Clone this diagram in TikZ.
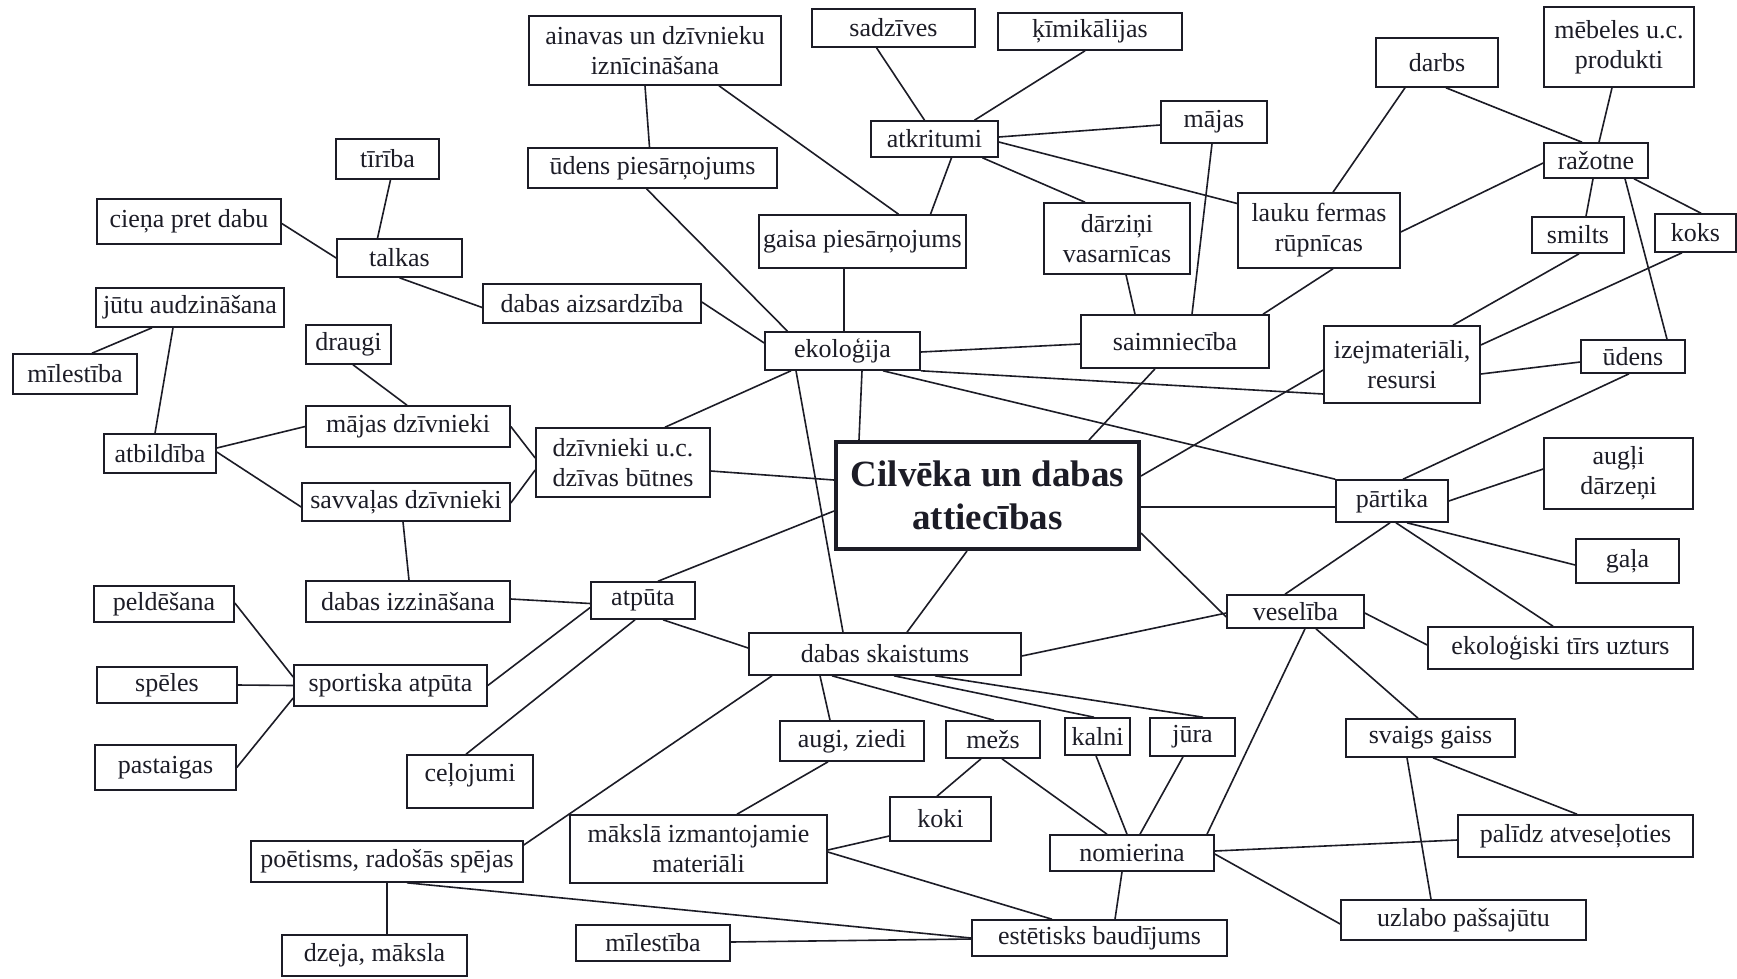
\documentclass[tikz,border=0pt]{standalone}
\usepackage{fontspec}
\setmainfont{Liberation Serif}
\definecolor{ink}{RGB}{28,28,38}
\newcommand\bx[5]{\node[box, minimum width=#4pt, minimum height=#5pt] (#1) at (#2,#3)}
\begin{document}
\begin{tikzpicture}[x=1pt,y=-1pt,
  box/.style={draw=ink, text=ink, line width=1.6pt, inner sep=0pt, align=center,
    font=\fontsize{26}{30}\selectfont},
  hub/.style={box, line width=4pt, font=\bfseries\fontsize{37}{43}\selectfont},
  ln/.style={draw=ink, line width=1.6pt}]
\useasboundingbox[fill=white] (0,0) rectangle (1737,978);

% boxes
\bx{ain}{655}{50.5}{252}{69} {ainavas un dzīvnieku\\iznīcināšana};
\bx{sad}{893.5}{28}{163}{38} {sadzīves};
\bx{kim}{1090}{31.5}{184}{37} {ķīmikālijas};
\bx{darbs}{1437}{62.5}{122}{49} {darbs};
\bx{meb}{1619}{47}{150}{80} {mēbeles u.c.\\produkti};
\bx{tir}{387.5}{159}{103}{40} {tīrība};
\bx{udp}{652.5}{168}{249}{40} {ūdens piesārņojums};
\bx{atk}{934.5}{139}{127}{36} {atkritumi};
\bx{maj}{1214}{122}{106}{42} {mājas};
\bx{raz}{1596}{160.5}{104}{35} {ražotne};
\bx{cien}{189}{221.5}{184}{45} {cieņa pret dabu};
\bx{talk}{399.5}{258}{125}{38} {talkas};
\bx{gaisa}{862.5}{241.5}{207}{53} {gaisa piesārņojums};
\bx{darz}{1117}{238.5}{146}{71} {dārziņi\\vasarnīcas};
\bx{lauk}{1319}{230.5}{162}{75} {lauku fermas\\rūpnīcas};
\bx{smil}{1578}{235}{92}{36} {smilts};
\bx{koks}{1695.5}{233}{81}{38} {koks};
\bx{jutu}{190}{307.5}{188}{39} {jūtu audzināšana};
\bx{daizs}{592}{303.5}{218}{39} {dabas aizsardzība};
\bx{draugi}{348.5}{344.5}{85}{39} {draugi};
\bx{ekol}{842.5}{351}{155}{38} {ekoloģija};
\bx{saim}{1175}{341.5}{188}{53} {saimniecība};
\bx{izej}{1402}{364.5}{156}{77} {izejmateriāli,\\resursi};
\bx{uden}{1633}{356.5}{104}{33} {ūdens};
\bx{mil1}{75}{374}{124}{40} {mīlestība};
\bx{mdz}{408}{426.5}{204}{41} {mājas dzīvnieki};
\bx{atb}{160}{453.5}{112}{39} {atbildība};
\bx{dzuc}{623}{462.5}{174}{69} {dzīvnieki u.c.\\dzīvas būtnes};
\node[hub, minimum width=303pt, minimum height=107pt] (cen) at (987.5,495.5) {Cilvēka un dabas\\attiecības};
\bx{augli}{1618.5}{473.5}{149}{71} {augļi\\dārzeņi};
\bx{part}{1392}{501}{112}{42} {pārtika};
\bx{sdz}{406}{502}{208}{38} {savvaļas dzīvnieki};
\bx{gala}{1627.5}{561}{103}{44} {gaļa};
\bx{peld}{164}{604}{140}{36} {peldēšana};
\bx{diz}{408}{601.5}{204}{41} {dabas izzināšana};
\bx{atp}{643}{600.5}{104}{37} {atpūta};
\bx{ves}{1295.5}{611.5}{137}{33} {veselība};
\bx{dsk}{885}{654}{272}{42} {dabas skaistums};
\bx{ekt}{1560.5}{648}{265}{42} {ekoloģiski tīrs uzturs};
\bx{spel}{167}{685}{140}{36} {spēles};
\bx{spa}{390.5}{685.5}{193}{41} {sportiska atpūta};
\bx{augi}{852}{741}{144}{40} {augi, ziedi};
\bx{mezs}{993}{739.5}{94}{37} {mežs};
\bx{kalni}{1097.5}{736.5}{65}{37} {kalni};
\bx{jura}{1192.5}{737}{85}{38} {jūra};
\bx{svg}{1430.5}{738}{169}{38} {svaigs gaiss};
\bx{past}{165.5}{767.5}{141}{45} {pastaigas};
\node[box, minimum width=126pt, minimum height=53pt, text depth=19pt] (celo) at (470,781.5) {ceļojumi};
\bx{koki}{940.5}{819}{101}{44} {koki};
\bx{maksla}{698.5}{849}{257}{68} {mākslā izmantojamie\\materiāli};
\bx{pal}{1575.5}{836}{235}{42} {palīdz atveseļoties};
\bx{nom}{1132}{853}{164}{36} {nomierina};
\bx{poet}{387}{861.5}{272}{41} {poētisms, radošās spējas};
\bx{uzl}{1463.5}{920}{245}{40} {uzlabo pašsajūtu};
\bx{est}{1099.5}{938}{255}{36} {estētisks baudījums};
\bx{mil2}{653}{943}{154}{36} {mīlestība};
\bx{dzeja}{374.5}{955.5}{185}{41} {dzeja, māksla};

% connectors
\draw[ln] ([shift={(3,0)}]tir.south) -- ([shift={(-22,0)}]talk.north);
\draw[ln] ([shift={(0,2)}]cien.east) -- (talk.west);
\draw[ln] (talk.south) -- ([shift={(0,4)}]daizs.west);
\draw[ln] ([shift={(-10,0)}]ain.south) -- ([shift={(-3,0)}]udp.north);
\draw[ln] ([shift={(64,0)}]ain.south) -- ([shift={(36,0)}]gaisa.north);
\draw[ln] ([shift={(-17,0)}]sad.south) -- ([shift={(-10,0)}]atk.north);
\draw[ln] ([shift={(-5,0)}]kim.south) -- ([shift={(40,0)}]atk.north);
\draw[ln] ([shift={(0,-2)}]atk.east) -- ([shift={(0,3)}]maj.west);
\draw[ln] ([shift={(0,3)}]atk.east) -- ([shift={(0,-27)}]lauk.west);
\draw[ln] ([shift={(48,0)}]atk.south) -- ([shift={(-32,0)}]darz.north);
\draw[ln] ([shift={(17,0)}]atk.south) -- ([shift={(68,0)}]gaisa.north);
\draw[ln] ([shift={(-6,0)}]udp.south) -- ([shift={(-55,0)}]ekol.north);
\draw[ln] ([shift={(-18.5,0)}]gaisa.south) -- ([shift={(1.5,0)}]ekol.north);
\draw[ln] ([shift={(0,-1.5)}]daizs.east) -- ([shift={(0,-8)}]ekol.west);
\draw[ln] ([shift={(9,0)}]darz.south) -- ([shift={(-40,0)}]saim.north);
\draw[ln] ([shift={(-2,0)}]maj.south) -- ([shift={(17,0)}]saim.north);
\draw[ln] ([shift={(14,0)}]lauk.south) -- ([shift={(88,0)}]saim.north);
\draw[ln] ([shift={(-32,0)}]darbs.south) -- ([shift={(14,0)}]lauk.north);
\draw[ln] ([shift={(9,0)}]darbs.south) -- ([shift={(-14,0)}]raz.north);
\draw[ln] ([shift={(-7,0)}]meb.south) -- ([shift={(3,0)}]raz.north);
\draw[ln] ([shift={(0,2.5)}]raz.west) -- ([shift={(0,1.5)}]lauk.east);
\draw[ln] ([shift={(-3,0)}]raz.south) -- ([shift={(8,0)}]smil.north);
\draw[ln] ([shift={(38,0)}]raz.south) -- ([shift={(5.5,0)}]koks.north);
\draw[ln] ([shift={(29,0)}]raz.south) -- ([shift={(34,0)}]uden.north);
\draw[ln] ([shift={(1,0)}]smil.south) -- ([shift={(51,0)}]izej.north);
\draw[ln] ([shift={(-13.5,0)}]koks.south) -- ([shift={(0,-19.5)}]izej.east);
\draw[ln] ([shift={(0,9.5)}]izej.east) -- ([shift={(0,5.5)}]uden.west);
\draw[ln] ([shift={(-38,0)}]jutu.south) -- ([shift={(17,0)}]mil1.north);
\draw[ln] ([shift={(-17,0)}]jutu.south) -- ([shift={(-5,0)}]atb.north);
\draw[ln] ([shift={(0,-5.5)}]atb.east) -- (mdz.west);
\draw[ln] ([shift={(0,-1.5)}]atb.east) -- ([shift={(0,5)}]sdz.west);
\draw[ln] ([shift={(4.5,0)}]draugi.south) -- ([shift={(-1,0)}]mdz.north);
\draw[ln] (mdz.east) -- ([shift={(0,-4.5)}]dzuc.west);
\draw[ln] ([shift={(0,1)}]sdz.east) -- ([shift={(0,7.5)}]dzuc.west);
\draw[ln] ([shift={(-3,0)}]sdz.south) -- ([shift={(1,0)}]diz.north);
\draw[ln] ([shift={(0,-2.5)}]diz.east) -- ([shift={(0,3)}]atp.west);
\draw[ln] ([shift={(0,-1)}]peld.east) -- ([shift={(0,-8.5)}]spa.west);
\draw[ln] (spel.east) -- (spa.west);
\draw[ln] (past.east) -- ([shift={(0,12.5)}]spa.west);
\draw[ln] (spa.east) -- ([shift={(0,7)}]atp.west);
\draw[ln] ([shift={(-4,0)}]celo.north) -- ([shift={(-8,0)}]atp.south);
\draw[ln] ([shift={(15,0)}]atp.north) -- ([shift={(0,15.5)}]cen.west);
\draw[ln] ([shift={(20,0)}]atp.south) -- ([shift={(0,-6)}]dsk.west);
\draw[ln] ([shift={(42,0)}]dzuc.north) -- ([shift={(-51.5,0)}]ekol.south);
\draw[ln] ([shift={(0,8.5)}]dzuc.east) -- ([shift={(0,-15.5)}]cen.west);
\draw[ln] ([shift={(-46.5,0)}]ekol.south) -- ([shift={(-42,0)}]dsk.north);
\draw[ln] ([shift={(19.5,0)}]ekol.south) -- ([shift={(-128.5,0)}]cen.north);
\draw[ln] ([shift={(0,1)}]ekol.east) -- ([shift={(0,2.5)}]saim.west);
\draw[ln] (ekol.south east) -- ([shift={(0,29.5)}]izej.west);
\draw[ln] ([shift={(40.5,0)}]ekol.south) -- (part.north west);
\draw[ln] ([shift={(-20,0)}]saim.south) -- ([shift={(101.5,0)}]cen.north);
\draw[ln] ([shift={(0,-19.5)}]cen.east) -- ([shift={(0,5.5)}]izej.west);
\draw[ln] ([shift={(0,11.5)}]cen.east) -- ([shift={(0,6)}]part.west);
\draw[ln] ([shift={(0,37.5)}]cen.east) -- ([shift={(0,5.5)}]ves.west);
\draw[ln] ([shift={(-20.5,0)}]cen.south) -- ([shift={(22,0)}]dsk.north);
\draw[ln] ([shift={(-4,0)}]uden.south) -- ([shift={(11,0)}]part.north);
\draw[ln] (part.east) -- ([shift={(0,-4.5)}]augli.west);
\draw[ln] ([shift={(15,0)}]part.south) -- ([shift={(0,4)}]gala.west);
\draw[ln] ([shift={(4,0)}]part.south) -- ([shift={(-7.5,0)}]ekt.north);
\draw[ln] ([shift={(-2,0)}]part.south) -- ([shift={(-10.5,0)}]ves.north);
\draw[ln] ([shift={(0,2)}]dsk.east) -- ([shift={(0,1.5)}]ves.west);
\draw[ln] ([shift={(0,1.5)}]ves.east) -- ([shift={(0,-3)}]ekt.west);
\draw[ln] ([shift={(20.5,0)}]ves.south) -- ([shift={(-12.5,0)}]svg.north);
\draw[ln] ([shift={(9.5,0)}]ves.south) -- ([shift={(75,0)}]nom.north);
\draw[ln] ([shift={(2.5,0)}]svg.south) -- ([shift={(1.5,0)}]pal.north);
\draw[ln] ([shift={(-23.5,0)}]svg.south) -- ([shift={(-32.5,0)}]uzl.north);
\draw[ln] ([shift={(0,-2)}]nom.east) -- ([shift={(0,4)}]pal.west);
\draw[ln] ([shift={(0,1)}]nom.east) -- ([shift={(0,4)}]uzl.west);
\draw[ln] ([shift={(-10,0)}]nom.south) -- ([shift={(15.5,0)}]est.north);
\draw[ln] ([shift={(-65,0)}]dsk.south) -- ([shift={(-22,0)}]augi.north);
\draw[ln] ([shift={(-53,0)}]dsk.south) -- ([shift={(1,0)}]mezs.north);
\draw[ln] ([shift={(9,0)}]dsk.south) -- ([shift={(-3.5,0)}]kalni.north);
\draw[ln] ([shift={(50,0)}]dsk.south) -- ([shift={(10.5,0)}]jura.north);
\draw[ln] ([shift={(-24,0)}]augi.south) -- ([shift={(38.5,0)}]maksla.north);
\draw[ln] ([shift={(-12,0)}]mezs.south) -- ([shift={(-3.5,0)}]koki.north);
\draw[ln] ([shift={(9,0)}]mezs.south) -- ([shift={(-25,0)}]nom.north);
\draw[ln] ([shift={(-1.5,0)}]kalni.south) -- ([shift={(-5,0)}]nom.north);
\draw[ln] ([shift={(-9.5,0)}]jura.south) -- ([shift={(8,0)}]nom.north);
\draw[ln] ([shift={(0,17)}]koki.west) -- ([shift={(0,1)}]maksla.east);
\draw[ln] ([shift={(0,3)}]maksla.east) -- ([shift={(-47.5,0)}]est.north);
\draw[ln] ([shift={(0,-16.5)}]poet.east) -- ([shift={(-113,0)}]dsk.south);
\draw[ln] (poet.south) -- ([shift={(12.5,0)}]dzeja.north);
\draw[ln] ([shift={(20,0)}]poet.south) -- (est.west);
\draw[ln] ([shift={(0,-1)}]mil2.east) -- ([shift={(0,1)}]est.west);
\end{tikzpicture}
\end{document}
